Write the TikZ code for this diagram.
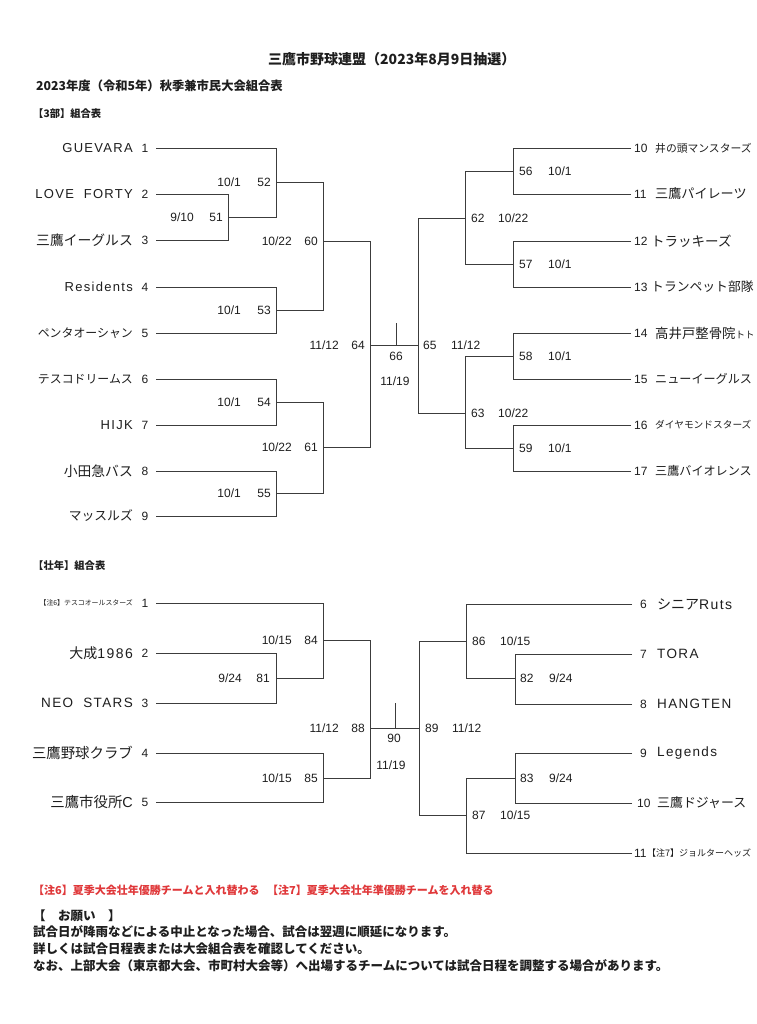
\documentclass[tikz,border=0pt]{standalone}
\usepackage{fontspec}
\setmainfont{Noto Sans CJK JP}
\newfontfamily\jp{Noto Sans CJK JP}
\newfontfamily\la{Liberation Sans}[LetterSpace=10]
\newfontfamily\nm{Liberation Sans}
\newcommand\fs[1]{\fontsize{#1}{#1}\selectfont}
\definecolor{ink}{HTML}{1E1E1E}
\definecolor{wirec}{HTML}{3C3C3C}
\definecolor{notec}{HTML}{E0383A}
\begin{document}
\begin{tikzpicture}[x=1pt,y=-1pt,
  wire/.style={draw=wirec, line width=0.9pt},
  nameL/.style={anchor=east, inner sep=0, text=ink},
  nameR/.style={anchor=west, inner sep=0, text=ink},
  seed/.style={inner sep=0, text=ink, font=\nm\fs{12}},
  dL/.style={anchor=east, inner sep=0, text=ink, font=\nm\fs{12}},
  dR/.style={anchor=west, inner sep=0, text=ink, font=\nm\fs{12}},
  dC/.style={anchor=center, inner sep=0, text=ink, font=\nm\fs{12}},
  head/.style={anchor=west, inner sep=0, text=ink, font=\bfseries},
  notered/.style={anchor=west, inner sep=0, text=notec, font=\bfseries\fs{11}},
  notebody/.style={anchor=west, inner sep=0, text=ink, font=\bfseries\fs{12.5}}]
\useasboundingbox[fill=white] (0,0) rectangle (756,1024);

% ---------- headers ----------
\node[head, font=\bfseries\fs{14}] (title) at (268,59) {三鷹市野球連盟（2023年8月9日抽選）};
\node[head, font=\bfseries\fs{12.3}] (sub) at (36,86) {2023年度（令和5年）秋季兼市民大会組合表};
\node[head, font=\bfseries\fs{10.3}] (h3) at (33,114) {【3部】組合表};
\node[head, font=\bfseries\fs{10.3}] (hs) at (33,566) {【壮年】組合表};

% ---------- 3部 left teams ----------
\node[nameL, font=\la\fs{13}] (a1) at (133,148) {GUEVARA};
\node[nameL, font=\la\fs{13}] (a2) at (133,194) {LOVE\ \ FORTY};
\node[nameL, font=\jp\fs{13.8}] (a3) at (133,240) {三鷹イーグルス};
\node[nameL, font=\la\fs{13}] (a4) at (133,287) {Residents};
\node[nameL, font=\jp\fs{11.9}] (a5) at (133,333) {ペンタオーシャン};
\node[nameL, font=\jp\fs{11.9}] (a6) at (133,379) {テスコドリームス};
\node[nameL, font=\la\fs{13}] (a7) at (133,425) {HIJK};
\node[nameL, font=\jp\fs{13.8}] (a8) at (133,471) {小田急バス};
\node[nameL, font=\jp\fs{12.8}] (a9) at (133,516) {マッスルズ};
\foreach \i/\y in {1/148,2/194,3/240,4/287,5/333,6/379,7/425,8/471,9/516}
  \node[seed] (as\i) at (145,\y) {\i};
\foreach \i/\y in {1/148,2/194,3/240,4/287,5/333,6/379,7/425,8/471,9/516}
  \coordinate (ta\i) at (156,\y);

% junctions left
\coordinate (m51) at (228,217.5);
\coordinate (m52) at (276,182);
\coordinate (m53) at (276,310);
\coordinate (m54) at (276,402);
\coordinate (m55) at (276,493);
\coordinate (m60) at (323,241);
\coordinate (m61) at (323,447);
\coordinate (m64) at (370,345);
% junctions right
\coordinate (m56) at (513,171);
\coordinate (m57) at (513,264);
\coordinate (m58) at (513,356);
\coordinate (m59) at (513,448);
\coordinate (m62) at (465,218);
\coordinate (m63) at (465,413);
\coordinate (m65) at (418,345);
\coordinate (k66) at (396,323);
\coordinate (c66) at (396,345);

\draw[wire] (ta1) -| (m52);
\draw[wire] (ta2) -| (m51);
\draw[wire] (ta3) -| (m51);
\draw[wire] (m51) -| (m52);
\draw[wire] (ta4) -| (m53);
\draw[wire] (ta5) -| (m53);
\draw[wire] (m52) -| (m60);
\draw[wire] (m53) -| (m60);
\draw[wire] (ta6) -| (m54);
\draw[wire] (ta7) -| (m54);
\draw[wire] (ta8) -| (m55);
\draw[wire] (ta9) -| (m55);
\draw[wire] (m54) -| (m61);
\draw[wire] (m55) -| (m61);
\draw[wire] (m60) -| (m64);
\draw[wire] (m61) -| (m64);
\draw[wire] (m64) -- (m65);
\draw[wire] (k66) -- (c66);

% right teams
\foreach \i/\y in {10/148,11/194,12/241,13/287,14/333,15/379,16/425,17/471}
  \coordinate (tb\i) at (631,\y);
\foreach \i/\y in {10/148,11/194,12/241,13/287,14/333,15/379,16/425,17/471}
  \node[seed, anchor=west] (bs\i) at (634,\y) {\i};
\node[nameR, font=\jp\fs{10.8}] (b10) at (655,148) {井の頭マンスターズ};
\node[nameR, font=\jp\fs{13.1}] (b11) at (655,194) {三鷹パイレーツ};
\node[nameR, font=\jp\fs{13.5}] (b12) at (651,241) {トラッキーズ};
\node[nameR, font=\jp\fs{12.8}] (b13) at (651,287) {トランペット部隊};
\node[nameR, font=\jp\fs{13.4}] (b14) at (655,333) {高井戸整骨院{\fs{9.5}トト}};
\node[nameR, font=\jp\fs{12.1}] (b15) at (655,379) {ニューイーグルス};
\node[nameR, font=\jp\fs{9.7}] (b16) at (655,425) {ダイヤモンドスターズ};
\node[nameR, font=\jp\fs{12.1}] (b17) at (655,471) {三鷹バイオレンス};

\draw[wire] (tb10) -| (m56);
\draw[wire] (tb11) -| (m56);
\draw[wire] (tb12) -| (m57);
\draw[wire] (tb13) -| (m57);
\draw[wire] (tb14) -| (m58);
\draw[wire] (tb15) -| (m58);
\draw[wire] (tb16) -| (m59);
\draw[wire] (tb17) -| (m59);
\draw[wire] (m56) -| (m62);
\draw[wire] (m57) -| (m62);
\draw[wire] (m58) -| (m63);
\draw[wire] (m59) -| (m63);
\draw[wire] (m62) -| (m65);
\draw[wire] (m63) -| (m65);

% match labels left
\node[dL] (d51) at (194,217.5) {9/10};  \node[dL] (n51) at (223,217.5) {51};
\node[dL] (d52) at (241,182) {10/1};    \node[dL] (n52) at (271,182) {52};
\node[dL] (d53) at (241,310) {10/1};    \node[dL] (n53) at (271,310) {53};
\node[dL] (d54) at (241,402) {10/1};    \node[dL] (n54) at (271,402) {54};
\node[dL] (d55) at (241,493) {10/1};    \node[dL] (n55) at (271,493) {55};
\node[dL] (d60) at (292,241) {10/22};   \node[dL] (n60) at (318,241) {60};
\node[dL] (d61) at (292,447) {10/22};   \node[dL] (n61) at (318,447) {61};
\node[dL] (d64) at (339,345) {11/12};   \node[dL] (n64) at (365,345) {64};
% match labels right
\node[dR] (n56) at (519,171) {56};  \node[dR] (d56) at (548,171) {10/1};
\node[dR] (n57) at (519,264) {57};  \node[dR] (d57) at (548,264) {10/1};
\node[dR] (n58) at (519,356) {58};  \node[dR] (d58) at (548,356) {10/1};
\node[dR] (n59) at (519,448) {59};  \node[dR] (d59) at (548,448) {10/1};
\node[dR] (n62) at (471,218) {62};  \node[dR] (d62) at (498,218) {10/22};
\node[dR] (n63) at (471,413) {63};  \node[dR] (d63) at (498,413) {10/22};
\node[dR] (n65) at (423,345) {65};  \node[dR] (d65) at (451,345) {11/12};
\node[dC] (n66) at (396,356) {66};
\node[dC] (d66) at (395,381) {11/19};

% ---------- 壮年 ----------
\node[nameL, font=\jp\fs{6.9}] (p1) at (133,603) {【注6】テスコオールスターズ};
\node[nameL, font=\fs{14}] (p2) at (133,653) {{\jp 大成}{\la 1986}};
\node[nameL, font=\la\fs{13.5}] (p3) at (133,703) {NEO\ \ STARS};
\node[nameL, font=\jp\fs{14.4}] (p4) at (133,753) {三鷹野球クラブ};
\node[nameL, font=\fs{14.4}] (p5) at (133,802) {{\jp 三鷹市役所}{\la C}};
\foreach \i/\y in {1/603,2/653,3/703,4/753,5/802}
  \node[seed] (ps\i) at (145,\y) {\i};
\foreach \i/\y in {1/603,2/653,3/703,4/753,5/802}
  \coordinate (tp\i) at (156,\y);

\coordinate (m81) at (276,678);
\coordinate (m84) at (323,640);
\coordinate (m85) at (323,778);
\coordinate (m88) at (370,728);
\coordinate (m82) at (515,678);
\coordinate (m86) at (466,641);
\coordinate (m83) at (515,778);
\coordinate (m87) at (466,815);
\coordinate (m89) at (419,728);
\coordinate (k90) at (395,703);
\coordinate (c90) at (395,728);

\draw[wire] (tp1) -| (m84);
\draw[wire] (tp2) -| (m81);
\draw[wire] (tp3) -| (m81);
\draw[wire] (m81) -| (m84);
\draw[wire] (tp4) -| (m85);
\draw[wire] (tp5) -| (m85);
\draw[wire] (m84) -| (m88);
\draw[wire] (m85) -| (m88);
\draw[wire] (m88) -- (m89);
\draw[wire] (k90) -- (c90);

\foreach \i/\y in {6/604,7/654,8/704,9/753,10/803,11/853}
  \coordinate (tq\i) at (632,\y);
\node[seed, anchor=west] (qs6) at (640,604) {6};
\node[seed, anchor=west] (qs7) at (640,654) {7};
\node[seed, anchor=west] (qs8) at (640,704) {8};
\node[seed, anchor=west] (qs9) at (640,753) {9};
\node[seed, anchor=west] (qs10) at (637,803) {10};
\node[seed, anchor=west] (qs11) at (634,853) {11};
\node[nameR, font=\fs{14}] (q6) at (657,604) {{\jp シニア}{\la Ruts}};
\node[nameR, font=\la\fs{13.5}] (q7) at (657,654) {TORA};
\node[nameR, font=\la\fs{13.5}] (q8) at (657,704) {HANGTEN};
\node[nameR, font=\la\fs{13.5}] (q9) at (657,753) {Legends};
\node[nameR, font=\jp\fs{12.9}] (q10) at (657,803) {三鷹ドジャース};
\node[nameR, font=\jp\fs{9}] (q11) at (647,853) {【注7】ジョルターヘッズ};

\draw[wire] (tq6) -| (m86);
\draw[wire] (tq7) -| (m82);
\draw[wire] (tq8) -| (m82);
\draw[wire] (m82) -| (m86);
\draw[wire] (tq9) -| (m83);
\draw[wire] (tq10) -| (m83);
\draw[wire] (m83) -| (m87);
\draw[wire] (tq11) -| (m87);
\draw[wire] (m86) -| (m89);
\draw[wire] (m87) -| (m89);

\node[dL] (d81) at (242,678) {9/24};   \node[dL] (n81) at (270,678) {81};
\node[dL] (d84) at (292,640) {10/15};  \node[dL] (n84) at (318,640) {84};
\node[dL] (d85) at (292,778) {10/15};  \node[dL] (n85) at (318,778) {85};
\node[dL] (d88) at (339,728) {11/12};  \node[dL] (n88) at (365,728) {88};
\node[dR] (n86) at (472,641) {86};  \node[dR] (d86) at (500,641) {10/15};
\node[dR] (n82) at (520,678) {82};  \node[dR] (d82) at (549,678) {9/24};
\node[dR] (n83) at (520,778) {83};  \node[dR] (d83) at (549,778) {9/24};
\node[dR] (n87) at (472,815) {87};  \node[dR] (d87) at (500,815) {10/15};
\node[dR] (n89) at (425,728) {89};  \node[dR] (d89) at (452,728) {11/12};
\node[dC] (n90) at (394,738) {90};
\node[dC] (d90) at (391,765) {11/19};

% ---------- notes ----------
\node[notered] (r6) at (33,890) {【注6】夏季大会壮年優勝チームと入れ替わる};
\node[notered] (r7) at (267,890) {【注7】夏季大会壮年準優勝チームを入れ替る};
\node[notebody] (o0) at (33,916) {【　お願い　】};
\node[notebody] (o1) at (33,932) {試合日が降雨などによる中止となった場合、試合は翌週に順延になります。};
\node[notebody] (o2) at (33,949) {詳しくは試合日程表または大会組合表を確認してください。};
\node[notebody] (o3) at (33,966) {なお、上部大会（東京都大会、市町村大会等）へ出場するチームについては試合日程を調整する場合があります。};
\end{tikzpicture}
\end{document}
